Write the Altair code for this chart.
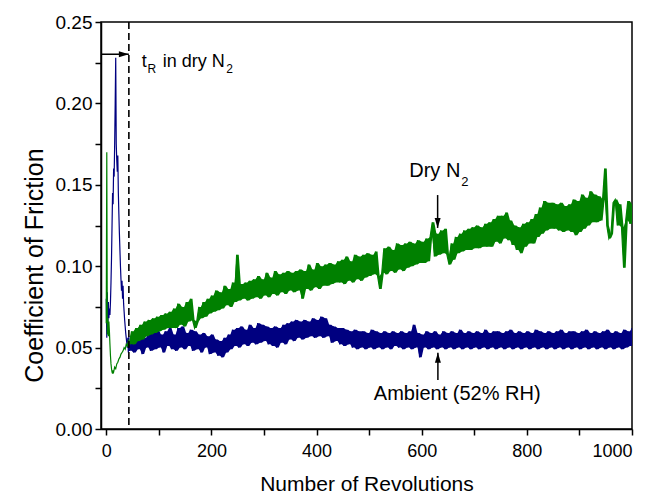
import altair as alt
import pandas as pd

# ---------------- data ----------------
# Ambient (52% RH) – navy trace
navy_x_early = list(range(0, 45))
navy_y_early = [0.080, 0.056, 0.084, 0.062, 0.078, 0.068, 0.074, 0.070, 0.078, 0.090,
                0.105, 0.125, 0.145, 0.138, 0.160, 0.155, 0.175, 0.200, 0.228, 0.175,
                0.165, 0.158, 0.168, 0.145, 0.132, 0.120, 0.110, 0.100, 0.092, 0.085,
                0.091, 0.080, 0.088, 0.077, 0.072, 0.067, 0.063, 0.059, 0.056, 0.053,
                0.050, 0.056, 0.047, 0.057, 0.048]
navy_x_main = list(range(48, 1001, 4))
navy_y_main = [
    0.058, 0.047, 0.057, 0.049, 0.059, 0.046, 0.056, 0.050, 0.060, 0.048,
    0.059, 0.049, 0.061, 0.050, 0.058, 0.047, 0.060, 0.051, 0.062, 0.049,
    0.058, 0.048, 0.062, 0.050, 0.063, 0.049, 0.059, 0.051, 0.061, 0.048,
    0.060, 0.049, 0.058, 0.047, 0.059, 0.050, 0.057, 0.046, 0.058, 0.047,
    0.055, 0.045, 0.054, 0.044, 0.056, 0.047, 0.058, 0.049, 0.061, 0.051,
    0.062, 0.050, 0.063, 0.052, 0.061, 0.051, 0.064, 0.053, 0.062, 0.052,
    0.065, 0.053, 0.064, 0.054, 0.063, 0.052, 0.062, 0.051, 0.063, 0.050,
    0.062, 0.053, 0.064, 0.052, 0.065, 0.055, 0.066, 0.054, 0.067, 0.056,
    0.066, 0.055, 0.067, 0.056, 0.066, 0.057, 0.068, 0.056, 0.067, 0.057,
    0.069, 0.056, 0.068, 0.057, 0.064, 0.053, 0.063, 0.054, 0.062, 0.052,
    0.062, 0.051, 0.061, 0.052, 0.060, 0.050, 0.061, 0.049, 0.060, 0.050,
    0.060, 0.049, 0.059, 0.050, 0.061, 0.049, 0.060, 0.050, 0.059, 0.049,
    0.060, 0.050, 0.059, 0.049, 0.060, 0.051, 0.059, 0.050, 0.060, 0.049,
    0.059, 0.050, 0.060, 0.049, 0.064, 0.050, 0.059, 0.044, 0.058, 0.050,
    0.060, 0.049, 0.059, 0.050, 0.060, 0.049, 0.058, 0.050, 0.060, 0.049,
    0.059, 0.050, 0.060, 0.049, 0.059, 0.050, 0.061, 0.049, 0.059, 0.050,
    0.060, 0.049, 0.059, 0.050, 0.060, 0.049, 0.059, 0.050, 0.061, 0.049,
    0.059, 0.050, 0.060, 0.049, 0.060, 0.050, 0.059, 0.049, 0.060, 0.050,
    0.061, 0.049, 0.059, 0.050, 0.060, 0.049, 0.059, 0.050, 0.060, 0.049,
    0.059, 0.050, 0.061, 0.049, 0.060, 0.050, 0.059, 0.049, 0.060, 0.050,
    0.059, 0.049, 0.060, 0.050, 0.061, 0.049, 0.059, 0.050, 0.060, 0.049,
    0.060, 0.050, 0.059, 0.049, 0.060, 0.050, 0.061, 0.049, 0.059, 0.050,
    0.060, 0.049, 0.059, 0.050, 0.060, 0.049, 0.061, 0.050, 0.059, 0.049,
    0.060, 0.050, 0.059, 0.049, 0.061, 0.050, 0.060, 0.051, 0.062]

# Dry N2 – green trace
green_x_early = [0, 1, 2, 3, 4, 5, 6, 7, 8, 9, 10, 11, 12, 13, 14,
                 16, 18, 20, 22, 24, 26, 28, 30, 32, 34, 36, 38, 40, 42, 44]
green_y_early = [0.065, 0.170, 0.058, 0.068, 0.057, 0.066, 0.060, 0.052, 0.045, 0.040,
                 0.037, 0.035, 0.034, 0.036, 0.035, 0.038, 0.037, 0.040, 0.041, 0.043,
                 0.044, 0.046, 0.047, 0.048, 0.050, 0.049, 0.052, 0.051, 0.054, 0.052]
green_x_main = list(range(48, 1001, 4))
green_y_main = [
    0.060, 0.052, 0.062, 0.054, 0.064, 0.055, 0.066, 0.057, 0.067, 0.058,
    0.068, 0.059, 0.069, 0.060, 0.070, 0.061, 0.071, 0.062, 0.072, 0.062,
    0.074, 0.062, 0.077, 0.064, 0.075, 0.063, 0.078, 0.066, 0.080, 0.067,
    0.062, 0.066, 0.075, 0.068, 0.078, 0.069, 0.080, 0.071, 0.082, 0.072,
    0.085, 0.073, 0.084, 0.074, 0.088, 0.076, 0.086, 0.075, 0.090, 0.078,
    0.107, 0.079, 0.089, 0.080, 0.090, 0.079, 0.091, 0.080, 0.092, 0.081,
    0.094, 0.080, 0.092, 0.082, 0.096, 0.081, 0.093, 0.083, 0.097, 0.082,
    0.095, 0.084, 0.096, 0.083, 0.097, 0.085, 0.096, 0.084, 0.097, 0.085,
    0.098, 0.080, 0.097, 0.086, 0.101, 0.085, 0.098, 0.087, 0.102, 0.086,
    0.100, 0.088, 0.101, 0.088, 0.102, 0.089, 0.101, 0.090, 0.103, 0.090,
    0.104, 0.089, 0.106, 0.091, 0.103, 0.090, 0.107, 0.092, 0.106, 0.091,
    0.107, 0.093, 0.108, 0.094, 0.107, 0.095, 0.109, 0.094, 0.086, 0.096,
    0.111, 0.095, 0.112, 0.097, 0.110, 0.096, 0.114, 0.098, 0.113, 0.097,
    0.114, 0.099, 0.115, 0.100, 0.114, 0.101, 0.116, 0.102, 0.115, 0.102,
    0.117, 0.103, 0.118, 0.127, 0.106, 0.120, 0.107, 0.122, 0.108, 0.123,
    0.107, 0.101, 0.114, 0.104, 0.118, 0.108, 0.120, 0.109, 0.122, 0.110,
    0.123, 0.110, 0.124, 0.111, 0.125, 0.111, 0.124, 0.112, 0.126, 0.112,
    0.127, 0.112, 0.129, 0.115, 0.131, 0.114, 0.131, 0.117, 0.133, 0.116,
    0.128, 0.113, 0.125, 0.110, 0.124, 0.108, 0.126, 0.112, 0.127, 0.114,
    0.129, 0.114, 0.132, 0.118, 0.136, 0.120, 0.140, 0.122, 0.139, 0.123,
    0.139, 0.123, 0.138, 0.122, 0.139, 0.121, 0.137, 0.122, 0.138, 0.121,
    0.141, 0.119, 0.140, 0.121, 0.144, 0.123, 0.142, 0.125, 0.146, 0.127,
    0.144, 0.127, 0.143, 0.128, 0.141, 0.160, 0.125, 0.117, 0.120, 0.139,
    0.141, 0.125, 0.138, 0.124, 0.099, 0.128, 0.140, 0.126, 0.138]

# axis ticks
x_ticks = [0, 100, 200, 300, 400, 500, 600, 700, 800, 900, 1000]
y_ticks = [0.0, 0.025, 0.05, 0.075, 0.10, 0.125, 0.15, 0.175, 0.20, 0.225, 0.25]

# onset marker (t_R in dry N2)
t_r = [43]

# annotation texts
ann_text = ["t", "R", "in dry N", "2", "Dry N", "2", "Ambient (52% RH)"]
ann_x = [67.3, 78.5, 107.3, 228.0, 576.3, 675.0, 509.0]
ann_y = [0.2225, 0.2187, 0.2225, 0.2184, 0.1548, 0.1495, 0.0178]
ann_size = [18, 12, 18, 12, 20, 13, 20]

# arrows: shaft start/end, head at (x2, y2)
arr_x = [-10, 630.3, 630.8]
arr_x2 = [43, 630.3, 630.8]
arr_y = [0.2302, 0.1437, 0.0301]
arr_y2 = [0.2302, 0.1235, 0.0468]
arr_dir = ["right", "down", "up"]

# ---------------- build chart ----------------
navy = pd.DataFrame({"x": navy_x_early + navy_x_main, "y": navy_y_early + navy_y_main})
green = pd.DataFrame({"x": green_x_early + green_x_main, "y": green_y_early + green_y_main})
ann = pd.DataFrame({"text": ann_text, "x": ann_x, "y": ann_y, "size": ann_size})
arr = pd.DataFrame({"x": arr_x, "x2": arr_x2, "y": arr_y, "y2": arr_y2, "dir": arr_dir})
vline = pd.DataFrame({"x": t_r})

FONT = "Liberation Sans"
xscale = alt.Scale(domain=[-10, 1000], nice=False, zero=False)
yscale = alt.Scale(domain=[0, 0.25], nice=False, zero=False)

xaxis = alt.Axis(values=x_ticks,
                 labelExpr="datum.value % 200 == 0 ? format(datum.value, 'd') : ''",
                 title="Number of Revolutions", grid=False, tickSize=6, tickWidth=1.5,
                 tickColor="black", domainColor="black", domainWidth=1.5,
                 labelFont=FONT, labelFontSize=18, labelColor="black",
                 labelBaseline="alphabetic", labelPadding=21,
                 titleFont=FONT, titleFontSize=21, titleFontWeight="normal", titleColor="black",
                 titleBaseline="alphabetic", titleY=61, titleX=265.5, titleAlign="center")
yaxis = alt.Axis(values=y_ticks,
                 labelExpr="(round(datum.value*1000) % 50 == 0) ? format(datum.value, '.2f') : ''",
                 title="Coefficient of Friction", grid=False, tickSize=6, tickWidth=1.5,
                 tickColor="black", domainColor="black", domainWidth=1.5,
                 labelFont=FONT, labelFontSize=19, labelColor="black", labelPadding=3,
                 titleFont=FONT, titleFontSize=25, titleFontWeight="normal", titleColor="black",
                 titleBaseline="alphabetic", titleX=-59, titleY=243, titleAlign="center")


def X(f="x"):
    return alt.X(f, type="quantitative", scale=xscale, axis=xaxis)


def Y(f="y"):
    return alt.Y(f, type="quantitative", scale=yscale, axis=yaxis)


def band(df, color):
    # solid core of the noisy trace: span between each read value and the previous one
    return alt.Chart(df).transform_filter("datum.x >= 44").transform_window(
        lo="min(y)", hi="max(y)", frame=[-1, 0], sort=[{"field": "x"}]
    ).mark_area(color=color, opacity=1, clip=True).encode(
        x=alt.X("x:Q", scale=xscale, axis=xaxis),
        y=alt.Y("lo:Q", scale=yscale, axis=yaxis),
        y2=alt.Y2("hi:Q"))


def trace(df, color):
    return alt.Chart(df).mark_line(color=color, strokeWidth=1.2, clip=True).encode(
        x=X(), y=Y(), order="x:Q")


navy_band = band(navy, "#000080")
navy_line = trace(navy, "#000080")
green_band = band(green, "#008000")
green_line = trace(green, "#008000")

dash = alt.Chart(vline).mark_rule(color="black", strokeWidth=1.6, strokeDash=[7, 4]).encode(x=X())

shaft = alt.Chart(arr).mark_rule(color="black", strokeWidth=1.5).encode(
    x=X(), x2="x2", y=Y(), y2="y2")

heads = alt.Chart(arr).mark_point(filled=True, opacity=1, color="black", size=400,
                                  strokeWidth=0).encode(
    x=X("x2"), y=Y("y2"),
    shape=alt.Shape("dir:N", legend=None,
                    scale=alt.Scale(domain=["right", "down", "up"],
                                    range=["M0,0L-1,-0.3L-1,0.3Z",
                                           "M0,0L-0.3,-1L0.3,-1Z",
                                           "M0,0L-0.3,1L0.3,1Z"])))

texts = alt.Chart(ann).mark_text(align="left", baseline="alphabetic", font=FONT,
                                 color="black").encode(
    x=X(), y=Y(), text="text:N",
    size=alt.Size("size:Q", scale=None, legend=None))

chart = alt.layer(navy_band, navy_line, green_band, green_line, dash, shaft, heads, texts).properties(
    width=531, height=407,
    autosize=alt.AutoSizeParams(type="none"),
    padding={"left": 93, "top": 14, "right": 11, "bottom": 66},
    background="white",
).configure_view(stroke="black", strokeWidth=1.5)

chart.save("out.html", embed_options={"renderer": "svg", "actions": False})
